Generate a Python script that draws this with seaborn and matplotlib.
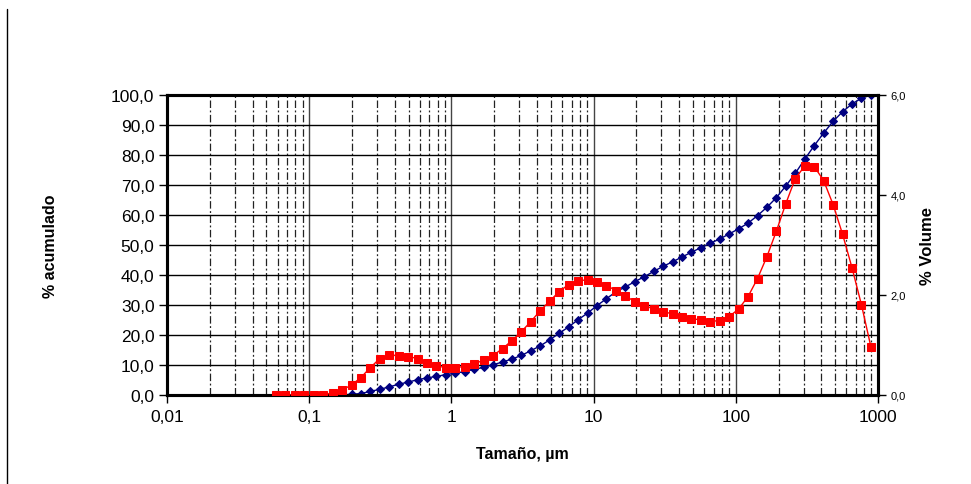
import matplotlib
matplotlib.use("Agg")
import matplotlib.pyplot as plt
import seaborn as sns
import numpy as np
import pandas as pd
from matplotlib.lines import Line2D
from matplotlib.ticker import FixedLocator, NullFormatter, LogLocator

sizes = [0.0584, 0.0680, 0.0793, 0.0924, 0.1076, 0.1254, 0.1462, 0.1703, 0.1984, 0.2312,
         0.2694, 0.3139, 0.3658, 0.4262, 0.4966, 0.5786, 0.6742, 0.7855, 0.9154, 1.0666,
         1.2428, 1.4481, 1.6874, 1.9662, 2.2909, 2.6694, 3.1104, 3.6243, 4.2230, 4.9204,
         5.7333, 6.6803, 7.7840, 9.0698, 10.568, 12.314, 14.348, 16.718, 19.480, 22.699,
         26.447, 30.817, 35.908, 41.838, 48.753, 56.806, 66.191, 77.125, 89.866, 104.71,
         122.01, 142.17, 165.65, 193.02, 224.91, 262.06, 305.35, 355.80, 414.57, 483.05,
         562.85, 655.82, 764.15, 890.38]

volume = [0.0, 0.0, 0.0, 0.0, 0.0, 0.01, 0.04, 0.10, 0.20, 0.35,
          0.55, 0.73, 0.80, 0.79, 0.77, 0.73, 0.64, 0.58, 0.55, 0.55,
          0.57, 0.62, 0.70, 0.79, 0.93, 1.09, 1.27, 1.47, 1.69, 1.88,
          2.07, 2.21, 2.29, 2.30, 2.27, 2.19, 2.09, 1.98, 1.87, 1.79,
          1.72, 1.67, 1.62, 1.57, 1.53, 1.50, 1.47, 1.49, 1.57, 1.72,
          1.97, 2.33, 2.77, 3.28, 3.83, 4.33, 4.58, 4.57, 4.29, 3.81,
          3.22, 2.55, 1.81, 0.97]

cumulative = [0.0, 0.0, 0.0, 0.0, 0.0, 0.0, 0.05, 0.1, 0.2, 0.5,
              1.2, 1.9, 2.7, 3.6, 4.3, 5.1, 5.7, 6.2, 6.8, 7.3,
              7.8, 8.6, 9.2, 10.1, 11.0, 12.0, 13.2, 14.8, 16.4, 18.4,
              20.6, 22.7, 25.1, 27.3, 29.8, 32.1, 34.4, 36.0, 37.8, 39.4,
              41.2, 42.9, 44.4, 46.0, 47.6, 49.1, 50.6, 52.0, 53.7, 55.4,
              57.3, 59.8, 62.6, 65.8, 69.7, 73.9, 78.6, 83.1, 87.3, 91.2,
              94.4, 97.0, 98.9, 100.0]

left_ticks = [0, 10, 20, 30, 40, 50, 60, 70, 80, 90, 100]
right_ticks = [0, 2, 4, 6]
x_ticks = [0.01, 0.1, 1, 10, 100, 1000]
x_tick_labels = ["0,01", "0,1", "1", "10", "100", "1000"]

sns.set_style("white")
plt.rcParams['font.family'] = ['Liberation Sans', 'DejaVu Sans']
plt.rcParams['text.color'] = 'black'
plt.rcParams['axes.labelcolor'] = 'black'

df = pd.DataFrame({"size": sizes, "volume": volume, "cum": cumulative})

fig = plt.figure(figsize=(9.71, 4.85), dpi=100)
ax = fig.add_axes([167/971, 1-396/485, (878-167)/971, 300/485])
ax2 = ax.twinx()

ax.set_xscale("log")
ax.set_xlim(0.01, 1000)
ax.set_ylim(0, 100)
ax2.set_ylim(0, 6)

# grid
ax.xaxis.set_major_locator(FixedLocator(x_ticks))
ax.set_xticklabels(x_tick_labels)
ax.xaxis.set_minor_locator(LogLocator(base=10, subs=np.arange(2, 10), numticks=20))
ax.xaxis.set_minor_formatter(NullFormatter())
ax.set_yticks(left_ticks)
ax.set_yticklabels([f"{v:.1f}".replace(".", ",") for v in left_ticks])
ax.grid(True, which="major", axis="y", color="black", linewidth=1.0)
ax.grid(True, which="major", axis="x", color="#444444", linewidth=1.0)
ax.grid(True, which="minor", axis="x", color="#222222", linewidth=0.9,
        linestyle=(0, (6, 2, 1.5, 2)))
ax.set_axisbelow(True)

sns.lineplot(data=df, x="size", y="cum", ax=ax, color="#000080", marker="D",
             markersize=3.6, markeredgecolor="#000080", linewidth=1.0, zorder=3)
sns.lineplot(data=df, x="size", y="volume", ax=ax2, color="#FF0000", marker="s",
             markersize=5.2, markeredgecolor="#FF0000", linewidth=1.0, zorder=4)

ax2.set_yticks(right_ticks)
ax2.set_yticklabels([f"{v:.1f}".replace(".", ",") for v in right_ticks])

for a in (ax, ax2):
    for s in a.spines.values():
        s.set_visible(True)
        s.set_color("black")
        s.set_linewidth(2.2)

ax.tick_params(axis="y", which="major", direction="out", length=6, width=1,
               labelsize=12.5, left=True, pad=3, colors="black")
ax.tick_params(axis="x", which="major", direction="out", length=6, width=1,
               labelsize=12.5, bottom=True, pad=4, colors="black")
ax.tick_params(axis="x", which="minor", length=0)
ax2.tick_params(axis="y", which="major", direction="out", length=6, width=1,
                labelsize=8, right=True, pad=3, colors="black")

ax.set_xlabel("Tamaño, µm", fontsize=11.5, fontweight="bold", labelpad=16, color="black")
ax.set_ylabel("% acumulado", fontsize=11.5, fontweight="bold", labelpad=38, color="black")
ax2.set_ylabel("% Volume", fontsize=12, fontweight="bold", labelpad=10, color="black")

fig.add_artist(Line2D([7.3/971, 7.3/971], [0, 1-10/485], color="black", linewidth=1.0))

fig.savefig("out.png", dpi=100, facecolor="white")
